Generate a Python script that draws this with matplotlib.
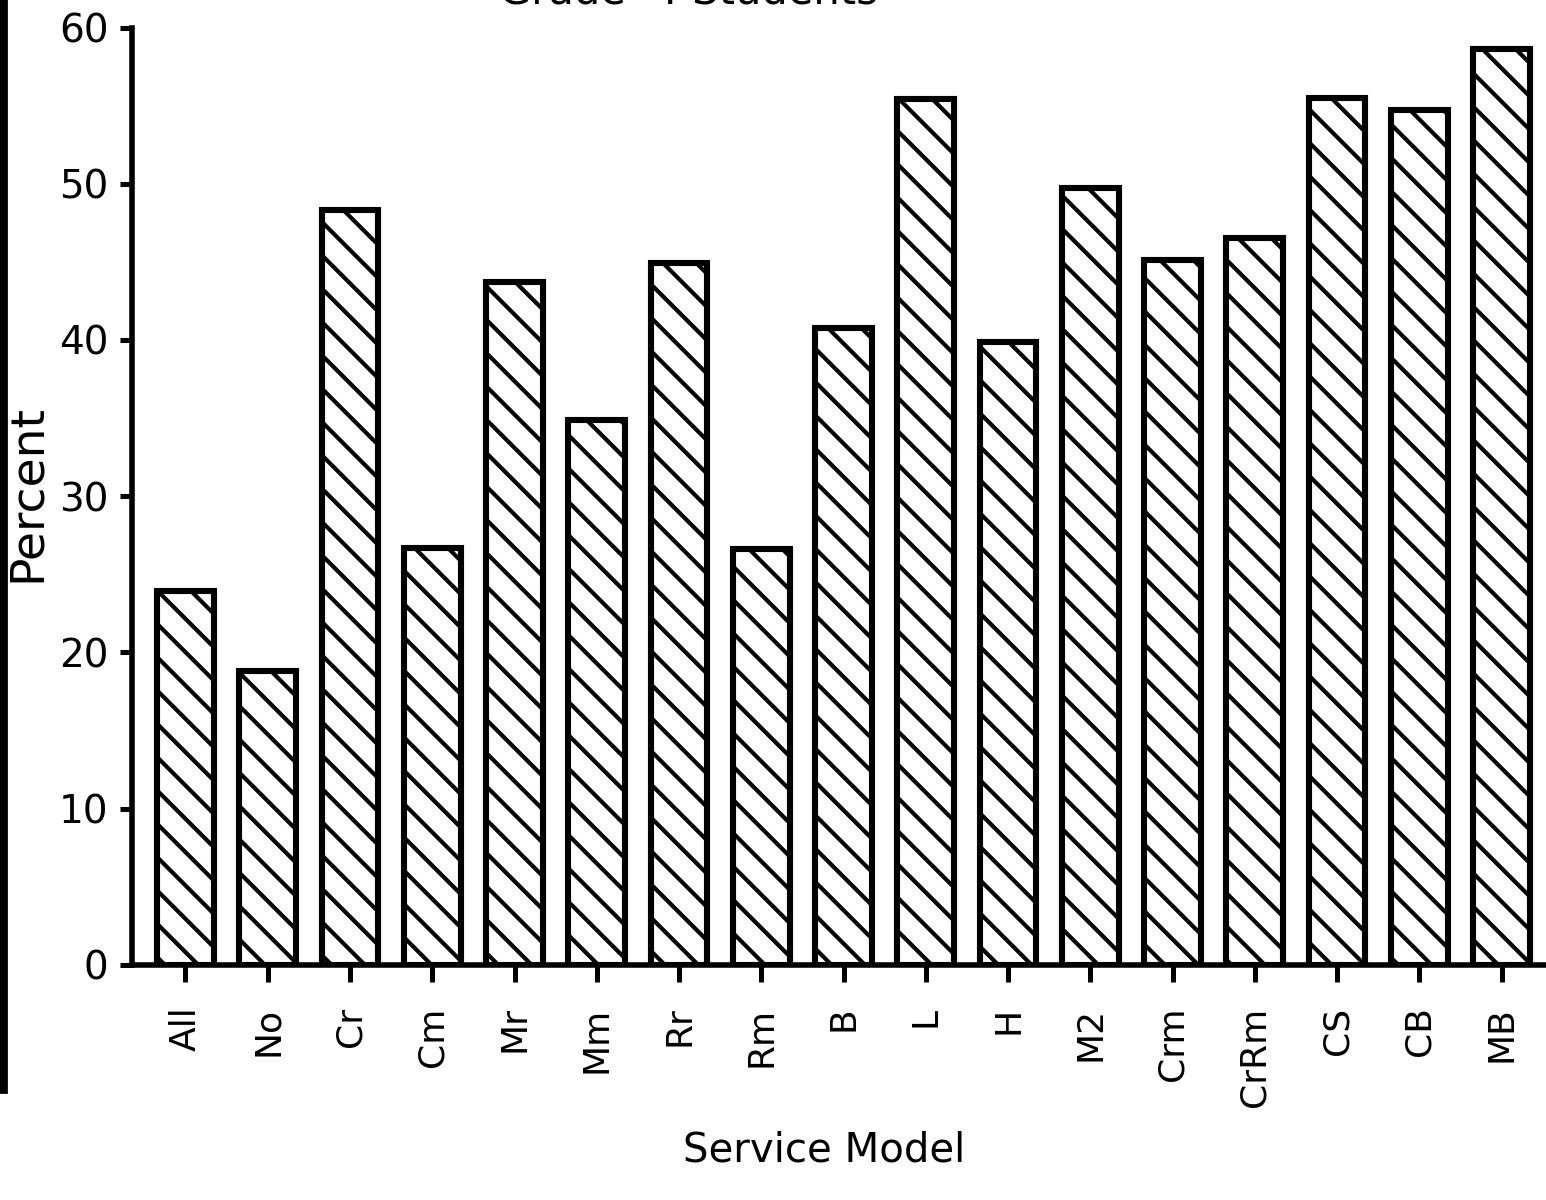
import matplotlib
matplotlib.use('Agg')
import matplotlib.pyplot as plt
from matplotlib.patches import Rectangle

models = ['All', 'No', 'Cr', 'Cm', 'Mr', 'Mm', 'Rr', 'Rm', 'B', 'L', 'H',
          'M2', 'Crm', 'CrRm', 'CS', 'CB', 'MB']
percent = [23.9, 18.8, 48.3, 26.7, 43.7, 34.9, 44.9, 26.6, 40.8, 55.4, 39.9,
           49.7, 45.1, 46.5, 55.5, 54.7, 58.6]
yticks = [0, 10, 20, 30, 40, 50, 60]

plt.rcParams['font.family'] = ['DejaVu Sans']
plt.rcParams['hatch.linewidth'] = 1.5
plt.rcParams['hatch.color'] = 'black'

fig = plt.figure(figsize=(7.73, 6.0), dpi=200)
ax = fig.add_axes([0.0854, 0.196, 0.9146, 0.781])

x = list(range(len(models)))
ax.bar(x, percent, width=0.69, color='white', edgecolor='black',
       linewidth=2.2, hatch='\\\\')

ax.set_xlim(-0.65, 16.54)
ax.set_ylim(0, 60)
ax.set_yticks(yticks)
ax.set_xticks(x)
ax.set_xticklabels(models, rotation=90, fontsize=13)
ax.tick_params(axis='y', labelsize=14, length=4.5, width=1.8, pad=4)
ax.tick_params(axis='x', length=6, width=1.8, pad=9)

for side in ['top', 'right']:
    ax.spines[side].set_visible(False)
for side in ['left', 'bottom']:
    ax.spines[side].set_linewidth(2.0)

fig.text(0.445, 0.9975, 'Grade  4 Students', ha='center', va='baseline',
         fontsize=15)
fig.text(0.533, 0.032, 'Service Model', ha='center', va='baseline',
         fontsize=14.5)
fig.text(0.018, 0.589, 'Percent', ha='center', va='center',
         rotation=90, fontsize=17)

# dark scan edge on the left
fig.add_artist(Rectangle((0, 0.09), 0.004, 0.91, transform=fig.transFigure,
                         color='black'))

fig.savefig('out.png', dpi=200)
